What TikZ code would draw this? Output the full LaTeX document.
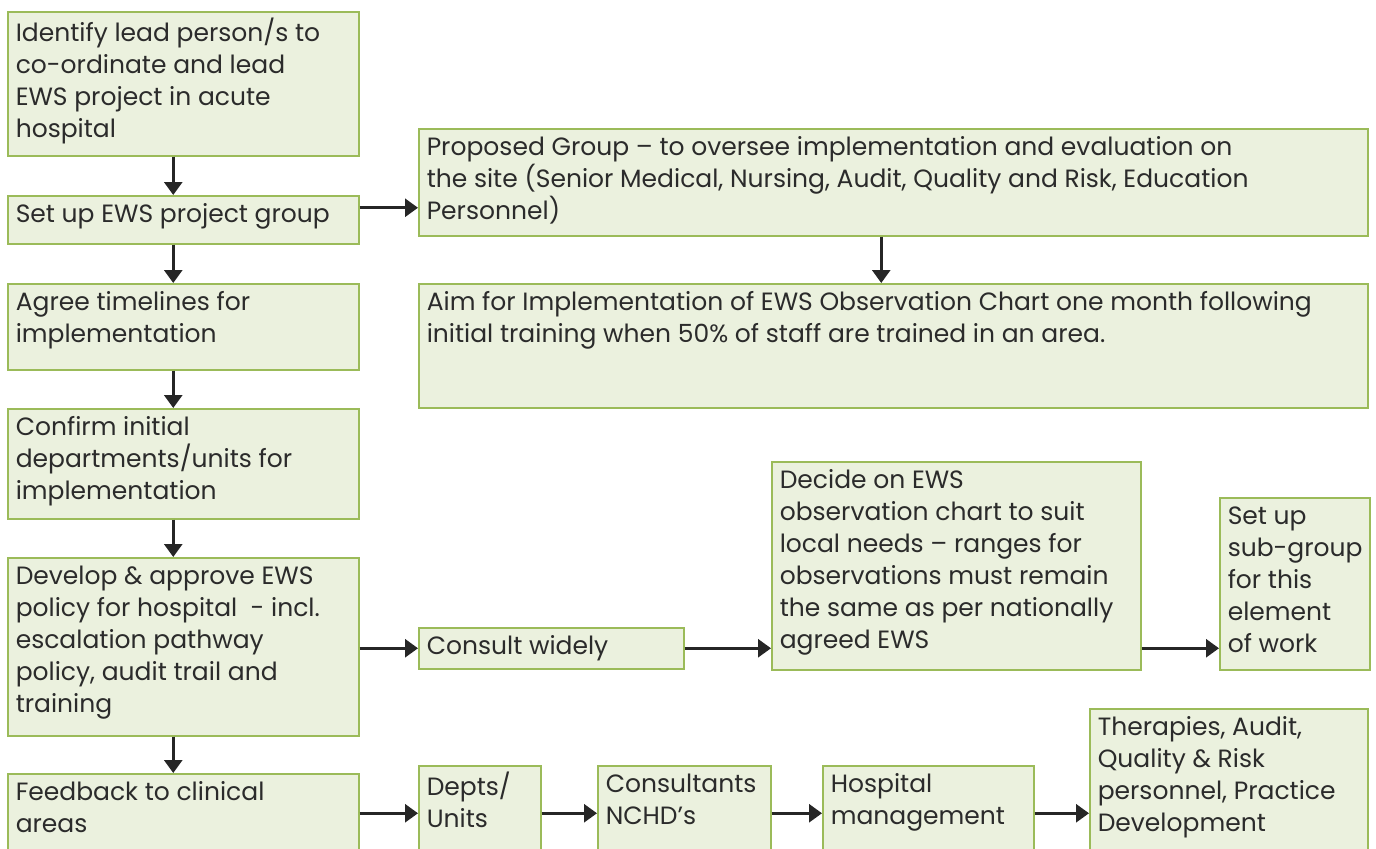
\documentclass[tikz,border=0pt]{standalone}
\usepackage{fontspec}
\setmainfont{Poppins}
\usetikzlibrary{arrows.meta}
\definecolor{boxfill}{HTML}{EBF1DE}
\definecolor{boxline}{HTML}{9BBB59}
\definecolor{boxtext}{HTML}{2B2B2B}
\newcommand{\boxcontent}[3]{\begin{minipage}[t][#2pt][t]{#1pt}\raggedright\rule{0pt}{10.5pt}#3\end{minipage}}
\tikzset{
    flow-box/.style = {draw=boxline, fill=boxfill, line width=0.75pt, rectangle, anchor=north west, inner xsep=4pt, inner ysep=3pt, text=boxtext, font=\fontsize{12.5}{16}\selectfont},
    flow-arrow/.style = {line width=1.4pt, draw=black!85, -{Triangle[length=6.5pt,width=9pt]}},
}

\begin{document}
\begin{tikzpicture}[x=0.5pt, y=-0.5pt]
\useasboundingbox (0,0) rectangle (1376,848);

% left column
\node[flow-box] (lead) at (7,11) {\boxcontent{167.5}{66}{Identify lead person/s to\\ co-ordinate and lead\\ EWS project in acute\\ hospital}};
\node[flow-box] (group) at (7,195) {\boxcontent{167.5}{18}{Set up EWS project group}};
\node[flow-box] (timelines) at (7,283) {\boxcontent{167.5}{37}{Agree timelines for\\ implementation}};
\node[flow-box] (units) at (7,408) {\boxcontent{167.5}{49}{Confirm initial\\ departments/units for\\ implementation}};
\node[flow-box] (policy) at (7,557) {\boxcontent{167.5}{83}{Develop \& approve EWS\\ policy for hospital\ \ - incl.\\ escalation pathway\\ policy, audit trail and\\ training}};
\node[flow-box] (feedback) at (7,773) {\boxcontent{167.5}{37.5}{Feedback to clinical\\ areas}};

% right of project group
\node[flow-box] (proposed) at (418,128) {\boxcontent{466.5}{47.5}{Proposed Group -- to oversee implementation and evaluation on\\ the site (Senior Medical, Nursing, Audit, Quality and Risk, Education\\ Personnel)}};
\node[flow-box] (aim) at (418,283) {\boxcontent{466.5}{56}{Aim for Implementation of EWS Observation Chart one month following\\ initial training when 50\% of staff are trained in an area.}};

% policy row
\node[flow-box] (consult) at (418,627) {\boxcontent{124.5}{14.5}{Consult widely}};
\node[flow-box] (chart) at (771,461) {\boxcontent{176.5}{98}{Decide on EWS\\ observation chart to suit\\ local needs -- ranges for\\ observations must remain\\ the same as per nationally\\ agreed EWS}};
\node[flow-box] (subgroup) at (1219,497) {\boxcontent{67}{80}{Set up\\ \mbox{sub-group}\\ for this\\ element\\ of work}};

% feedback row
\node[flow-box] (depts) at (418,765) {\boxcontent{53}{41.5}{Depts/\\ Units}};
\node[flow-box] (consultants) at (597,765) {\boxcontent{78.5}{41.5}{Consultants\\ NCHD's}};
\node[flow-box] (management) at (822,765) {\boxcontent{97.5}{41.5}{Hospital\\ management}};
\node[flow-box] (therapies) at (1089,708) {\boxcontent{131}{70}{Therapies, Audit,\\ Quality \& Risk\\ personnel, Practice\\ Development}};

% connectors
\draw[flow-arrow] ([xshift=-5pt]lead.south) -- ([xshift=-5pt]group.north);
\draw[flow-arrow] ([xshift=-5pt]group.south) -- ([xshift=-5pt]timelines.north);
\draw[flow-arrow] ([xshift=-5pt]timelines.south) -- ([xshift=-5pt]units.north);
\draw[flow-arrow] ([xshift=-5pt]units.south) -- ([xshift=-5pt]policy.north);
\draw[flow-arrow] ([xshift=-5pt]policy.south) -- ([xshift=-5pt]feedback.north);
\draw[flow-arrow] ([yshift=6pt]group.east) -- ([yshift=6pt]group.east -| proposed.west);
\draw[flow-arrow] ([xshift=-6pt]proposed.south) -- ([xshift=-6pt]aim.north);
\draw[flow-arrow] (consult.west -| policy.east) -- (consult.west);
\draw[flow-arrow] (consult.east) -- (consult.east -| chart.west);
\draw[flow-arrow] (consult.east -| chart.east) -- (consult.east -| subgroup.west);
\draw[flow-arrow] (depts.west -| feedback.east) -- (depts.west);
\draw[flow-arrow] (depts.east) -- (consultants.west);
\draw[flow-arrow] (consultants.east) -- (management.west);
\draw[flow-arrow] (management.east) -- (management.east -| therapies.west);
\end{tikzpicture}
\end{document}
